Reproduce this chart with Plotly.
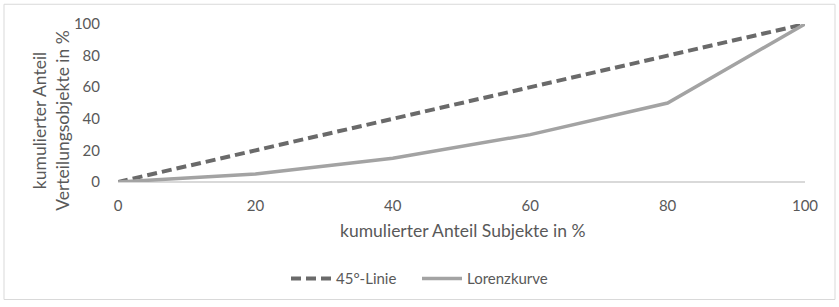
import plotly.graph_objects as go

x_vals = [0, 20, 40, 60, 80, 100]
linie45 = [0, 20, 40, 60, 80, 100]
lorenz = [0, 5, 15, 30, 50, 100]
x_ticks = [0, 20, 40, 60, 80, 100]
y_ticks = [0, 20, 40, 60, 80, 100]

FONT = "Lato, Open Sans, sans-serif"
W, H = 839, 307
L, R, T, B = 118, 34, 24, 123
pw, ph = W - L - R, H - T - B

def px(xp):
    return (xp - L) / pw

def py(yp):
    return (H - B - yp) / ph

fig = go.Figure()
fig.add_trace(go.Scatter(x=x_vals, y=linie45, mode="lines", name="45°-Linie",
                         line=dict(color="#6a6a6a", width=4, dash="10px,5px")))
fig.add_trace(go.Scatter(x=x_vals, y=lorenz, mode="lines", name="Lorenzkurve",
                         line=dict(color="#a3a3a3", width=3.5)))

fig.update_layout(
    width=W, height=H,
    margin=dict(l=L, r=R, t=T, b=B),
    paper_bgcolor="white", plot_bgcolor="white",
    font=dict(family=FONT, size=15, color="#595959"),
    showlegend=True,
    legend=dict(orientation="h", x=px(286), y=py(282), xanchor="left", yanchor="middle",
                font=dict(family=FONT, size=15, color="#595959"), itemwidth=40,
                entrywidth=76, bgcolor="rgba(0,0,0,0)"),
    xaxis=dict(range=[0, 100], tickvals=x_ticks, showgrid=False, zeroline=False,
               showline=False, ticks="outside", ticklen=10, tickcolor="rgba(0,0,0,0)",
               tickfont=dict(size=15, color="#595959")),
    yaxis=dict(range=[0, 100], tickvals=y_ticks, showgrid=False, zeroline=True,
               zerolinecolor="#d9d9d9", zerolinewidth=1.5, showline=False,
               ticks="outside", ticklen=14, tickcolor="rgba(0,0,0,0)",
               tickfont=dict(size=15, color="#595959")),
    shapes=[dict(type="rect", xref="paper", yref="paper",
                 x0=px(4), x1=px(835), y0=py(303), y1=py(4),
                 line=dict(color="#d9d9d9", width=1), fillcolor="rgba(0,0,0,0)", layer="below")],
    annotations=[
        dict(text="kumulierter Anteil<br>Verteilungsobjekte in %", xref="paper", yref="paper",
             x=px(51), y=py(122), textangle=-90, showarrow=False,
             font=dict(family=FONT, size=17.5, color="#595959"), xanchor="center", yanchor="middle"),
        dict(text="kumulierter Anteil Subjekte in %", xref="paper", yref="paper",
             x=px(462), y=py(233), showarrow=False,
             font=dict(family=FONT, size=17.5, color="#595959"), xanchor="center", yanchor="middle"),
    ],
)

fig.write_html("out.html", config={"displayModeBar": False},
               post_script="document.body.style.margin='0';document.body.style.padding='0';")
